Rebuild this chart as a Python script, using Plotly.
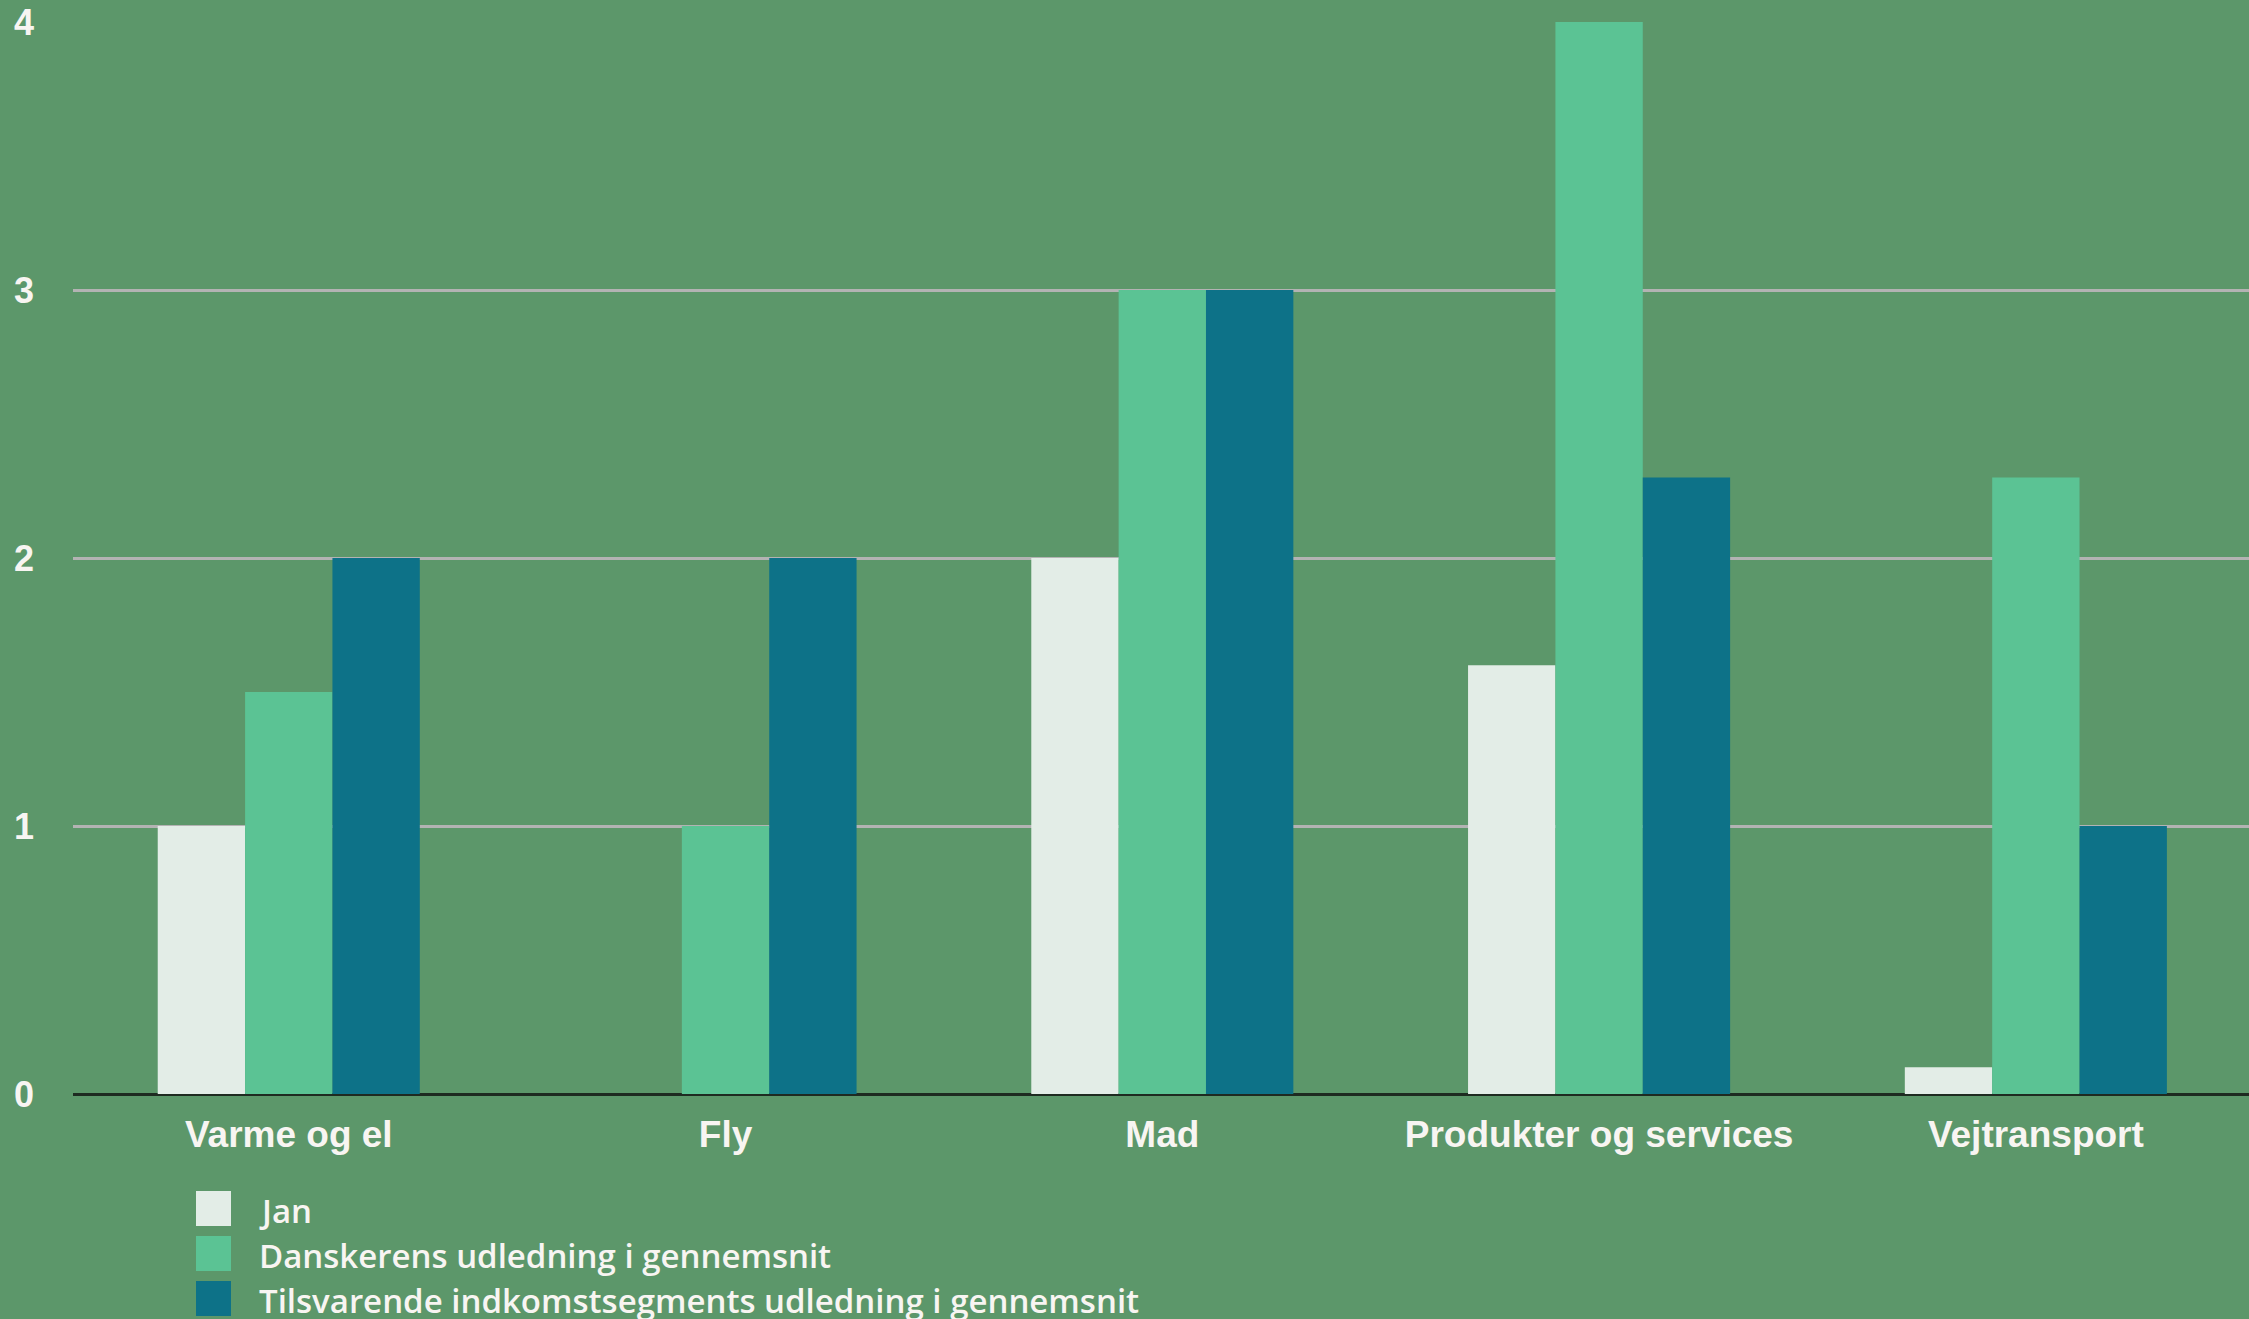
import plotly.graph_objects as go

categories = ["Varme og el", "Fly", "Mad", "Produkter og services", "Vejtransport"]
series_names = ["Jan", "Danskerens udledning i gennemsnit",
                "Tilsvarende indkomstsegments udledning i gennemsnit"]
jan = [1.0, 0.0, 2.0, 1.6, 0.1]
dansker = [1.5, 1.0, 3.0, 4.0, 2.3]
tilsvarende = [2.0, 2.0, 3.0, 2.3, 1.0]
y_ticks = [0, 1, 2, 3, 4]

colors = ["#e3ede7", "#5bc394", "#0d7288"]
bg = "#5c976a"
text_col = "#f8f5f2"

W, H = 2249, 1319
ml, mr, mt, mb = 73, 0, 22, 225
pw, ph = W - ml - mr, H - mt - mb

fig = go.Figure()
for name, vals, c in zip(series_names, [jan, dansker, tilsvarende], colors):
    fig.add_trace(go.Bar(x=categories, y=vals, name=name, marker_color=c,
                         marker_line_width=0, showlegend=False))

# manual legend (large square swatches)
def px_to_paper_x(px):
    return (px - ml) / pw

def px_to_paper_y(py):
    return (H - mb - py) / ph

shapes = []
annotations = []
sq = 35
for i, (name, c) in enumerate(zip(series_names, colors)):
    cy = 1208.5 + 45 * i
    shapes.append(dict(type="rect", xref="paper", yref="paper",
                       x0=px_to_paper_x(196), x1=px_to_paper_x(196 + sq),
                       y0=px_to_paper_y(cy + sq / 2), y1=px_to_paper_y(cy - sq / 2),
                       fillcolor=c, line_width=0, layer="above"))
    annotations.append(dict(text=name, xref="paper", yref="paper",
                            x=px_to_paper_x(257), y=px_to_paper_y(cy + 2),
                            xanchor="left", yanchor="middle", showarrow=False,
                            font=dict(family="Open Sans", size=33, color=text_col,
                                      weight=600)))

fig.update_layout(
    width=W, height=H,
    margin=dict(l=ml, r=mr, t=mt, b=mb, pad=0),
    paper_bgcolor=bg, plot_bgcolor=bg,
    barmode="group", bargap=0.4, bargroupgap=0,
    shapes=shapes, annotations=annotations,
    xaxis=dict(range=[-0.494, 4.488], showgrid=False, showline=False,
               ticks="", ticklabelstandoff=15,
               tickfont=dict(family="Liberation Sans", size=37, color=text_col,
                             weight="bold")),
    yaxis=dict(range=[0, 4], tickvals=y_ticks, ticktext=[str(v) for v in y_ticks],
               showgrid=True, gridcolor="#b3b3b3", gridwidth=2.5,
               zeroline=True, zerolinecolor="#1e2b21", zerolinewidth=2.5,
               showline=False, ticks="", ticklabelstandoff=38,
               tickfont=dict(family="Liberation Sans", size=36, color=text_col,
                             weight="bold")),
    font=dict(family="Liberation Sans", color=text_col),
)

fig.write_html("out.html")
